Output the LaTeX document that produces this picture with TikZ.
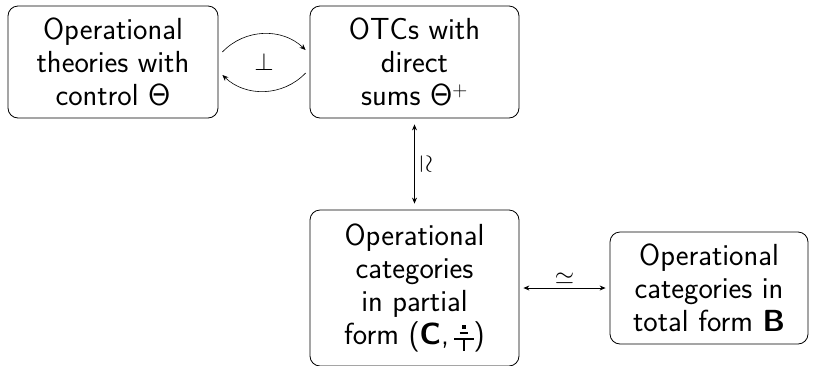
\documentclass[tikz,border=0pt]{standalone}
\usetikzlibrary{arrows.meta}
\newcommand{\myeqsym}{\mbox{\rlap{\hspace{8pt}\rule[16pt]{3.5pt}{3.5pt}}\rlap{\hspace{5.5pt}\rule[11pt]{8.5pt}{2pt}}\rlap{\rule[5pt]{19.5pt}{2pt}}\rlap{\hspace{8.75pt}\rule[-6pt]{2pt}{12pt}}\hspace{19.5pt}}}
\begin{document}
\begin{tikzpicture}[x=1pt,y=-1pt,
  box/.style={draw, line width=0.8pt, rounded corners=10pt, align=center, inner sep=0pt,
    font=\sffamily\fontsize{30.5}{33}\selectfont},
  arr/.style={line width=0.8pt, {Stealth[length=6pt,width=5pt]}-{Stealth[length=6pt,width=5pt]}},
  onearr/.style={line width=0.6pt, -{Stealth[length=6pt,width=5pt]}},
  lab/.style={font=\fontsize{26}{30}\selectfont}]
\useasboundingbox (0,0) rectangle (817,365);
\node[box, minimum width=210pt, minimum height=112pt] (ot) at (113,62) {Operational\\theories with\\control Θ};
\node[box, minimum width=209pt, minimum height=112pt] (otc) at (414.5,62) {OTCs with\\direct\\sums Θ$^{+}$};
\node[box, minimum width=209pt, minimum height=156pt] (pc) at (414.5,288) {Operational\\categories\\in partial\\form (\textbf{C},\,\myeqsym)};
\node[box, minimum width=198pt, minimum height=112pt] (tc) at (709,288) {Operational\\categories in\\total form \textbf{B}};
\draw[onearr] ([xshift=4pt,yshift=10pt]ot.east) to[bend left=45] ([xshift=-4pt,yshift=12pt]otc.west);
\draw[onearr] ([xshift=-4pt,yshift=-11pt]otc.west) to[bend left=45] ([xshift=4pt,yshift=-13pt]ot.east);
\node[lab] (bot) at (264,62) {$\perp$};
\draw[arr] ([yshift=-6pt]otc.south) -- node[right, lab, xshift=2pt] (iso) {\rotatebox{-90}{$\simeq$}} ([yshift=6pt]pc.north);
\draw[arr] ([xshift=4pt]pc.east) -- node[above, lab, yshift=0pt] (eq) {$\simeq$} ([xshift=-4pt]tc.west);
\end{tikzpicture}
\end{document}
